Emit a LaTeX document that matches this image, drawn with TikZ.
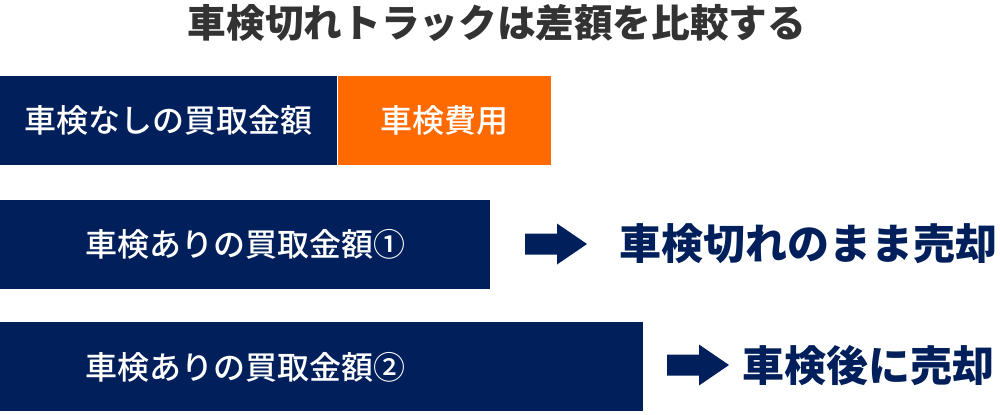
\documentclass[tikz,border=0pt]{standalone}
\usepackage{fontspec}
\setmainfont{Noto Sans CJK JP}
\newfontfamily\medfont{Noto Sans CJK JP Medium}
\definecolor{navy}{HTML}{001F5B}
\definecolor{accent}{HTML}{FF6A00}
\definecolor{titlegray}{HTML}{333333}

\begin{document}
\begin{tikzpicture}[x=0.02cm, y=-0.02cm,
    bar/.style={anchor=north west, inner sep=0pt, minimum height=89*0.02cm},
    bartext/.style={text=white, inner sep=0pt, font=\medfont\fontsize{18.2}{18}\selectfont},
    result/.style={text=navy, inner sep=0pt, font=\bfseries\fontsize{23.9}{24}\selectfont}]
    \def\headlen{30}  % arrow head length
    \def\shaft{10.5}  % half shaft thickness
    \useasboundingbox (0,0) rectangle (1000,414);
    \node[text=titlegray, inner sep=0pt, font=\bfseries\fontsize{22}{24}\selectfont] (title) at (497,23) {車検切れトラックは差額を比較する};
    % bars
    \node[bar, fill=navy, minimum width=337*0.02cm] (nobar) at (0,76) {};
    \node[bar, fill=accent, minimum width=213*0.02cm] (costbar) at (nobar.north east) {};
    \node[bar, fill=navy, minimum width=490*0.02cm] (withbarA) at (0,200) {};
    \node[bar, fill=navy, minimum width=643*0.02cm] (withbarB) at (0,322) {};
    \node[bartext] (notext) at (nobar) {車検なしの買取金額};
    \node[bartext] (costtext) at (costbar) {車検費用};
    \node[bartext] (withtextA) at (withbarA) {車検ありの買取金額①};
    \node[bartext, anchor=west] (withtextB) at (withtextA.west |- withbarB) {車検ありの買取金額②};
    % arrows and results
    \foreach \ax/\ay in {525/244, 667/365} {
        \fill[navy] (\ax,{\ay-\shaft}) -- ({\ax+32},{\ay-\shaft}) -- ({\ax+32},{\ay-20.5})
            -- ({\ax+32+\headlen},\ay) -- ({\ax+32},{\ay+20.5}) -- ({\ax+32},{\ay+\shaft})
            -- (\ax,{\ay+\shaft}) -- cycle;
    };
    \node[result, anchor=west] (sellnow) at (619,244) {車検切れのまま売却};
    \node[result, anchor=east] (sellafter) at (995,366) {車検後に売却};
\end{tikzpicture}
\end{document}
